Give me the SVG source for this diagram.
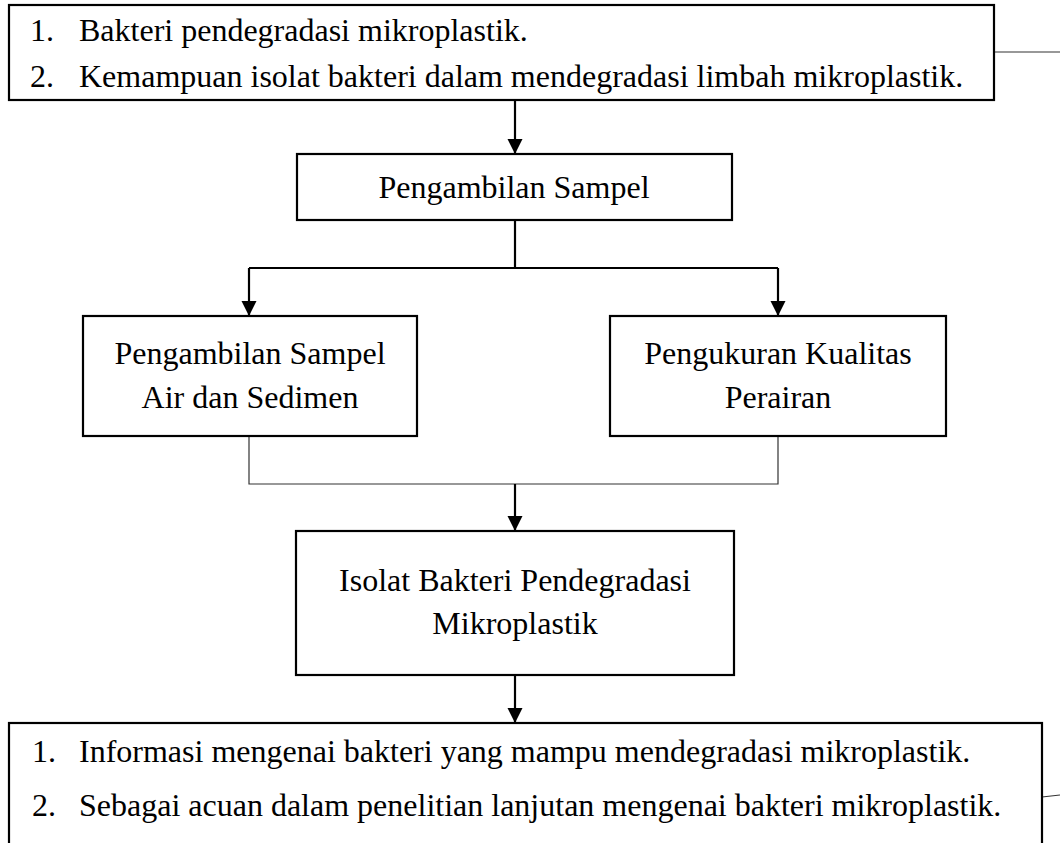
<svg xmlns="http://www.w3.org/2000/svg" width="1060" height="843" viewBox="0 0 1060 843">
<defs>
<style>
.box{fill:#fff;stroke:#000;stroke-width:2.2}
.t{font-family:"Liberation Serif","Times New Roman",serif;font-size:32px;fill:#000}
.c{text-anchor:middle}
.arr{stroke:#000;stroke-width:2.2;fill:none;marker-end:url(#ah)}
.ln{stroke:#000;stroke-width:2.2;fill:none}
.thin{stroke:#333;stroke-width:1.2;fill:none}
</style>
<marker id="ah" markerUnits="userSpaceOnUse" markerWidth="16" markerHeight="16" refX="15" refY="7.5" orient="auto">
<path d="M0,0 L15,7.5 L0,15 Z" fill="#000"/>
</marker>
</defs>
<rect width="1060" height="843" fill="#fff"/>
<g id="connectors">
<line class="thin" x1="994" y1="52" x2="1060" y2="52"/>
<line class="thin" x1="1042" y1="797" x2="1060" y2="795"/>
<line class="arr" x1="515" y1="100" x2="515" y2="154"/>
<line class="ln" x1="515" y1="220" x2="515" y2="268"/>
<polyline class="ln" points="249,268 778,268"/>
<line class="arr" x1="249" y1="268" x2="249" y2="316"/>
<line class="arr" x1="778" y1="268" x2="778" y2="316"/>
<polyline class="thin" points="249,436 249,484 778,484 778,436"/>
<line class="arr" x1="515" y1="484" x2="515" y2="531"/>
<line class="arr" x1="515" y1="675" x2="515" y2="723"/>
</g>
<g id="node-top">
<rect class="box" x="9" y="5" width="985" height="95"/>
<text class="t" x="30" y="41">1.</text>
<text class="t" x="79" y="41">Bakteri pendegradasi mikroplastik.</text>
<text class="t" x="30" y="87">2.</text>
<text class="t" x="79" y="87">Kemampuan isolat bakteri dalam mendegradasi limbah mikroplastik.</text>
</g>
<g id="node-sampel">
<rect class="box" x="297" y="154" width="435" height="66"/>
<text class="t c" x="514" y="198">Pengambilan Sampel</text>
</g>
<g id="node-air">
<rect class="box" x="83" y="316" width="334" height="120"/>
<text class="t c" x="250" y="364">Pengambilan Sampel</text>
<text class="t c" x="250" y="408">Air dan Sedimen</text>
</g>
<g id="node-kualitas">
<rect class="box" x="610" y="316" width="336" height="120"/>
<text class="t c" x="778" y="364">Pengukuran Kualitas</text>
<text class="t c" x="778" y="408">Perairan</text>
</g>
<g id="node-isolat">
<rect class="box" x="296" y="531" width="438" height="144"/>
<text class="t c" x="515" y="591">Isolat Bakteri Pendegradasi</text>
<text class="t c" x="515" y="634">Mikroplastik</text>
</g>
<g id="node-output">
<rect class="box" x="9" y="723" width="1033" height="140"/>
<text class="t" x="32" y="762">1.</text>
<text class="t" x="79" y="762">Informasi mengenai bakteri yang mampu mendegradasi mikroplastik.</text>
<text class="t" x="32" y="816">2.</text>
<text class="t" x="79" y="816">Sebagai acuan dalam penelitian lanjutan mengenai bakteri mikroplastik.</text>
</g>
</svg>
